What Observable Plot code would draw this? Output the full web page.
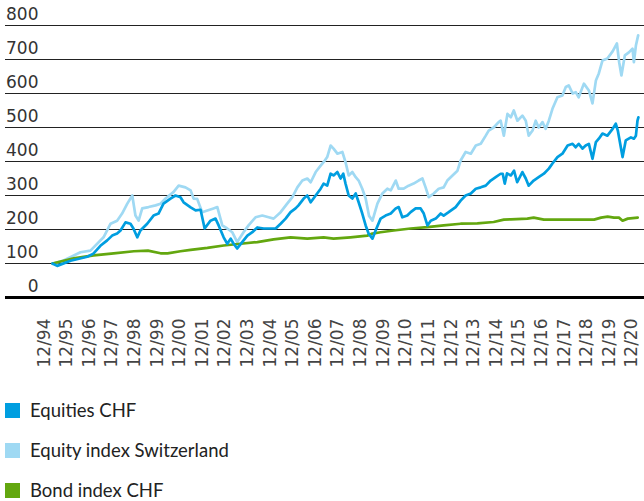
<!DOCTYPE html>
<html><head><meta charset="utf-8">
<script src="https://cdn.jsdelivr.net/npm/d3@7"></script>
<script src="https://cdn.jsdelivr.net/npm/@observablehq/plot@0.6"></script>
<style>
body{margin:0;background:#fff;font-family:Lato,sans-serif;}
#legend{margin-top:10px}
.row{height:40px;display:flex;align-items:center;font-size:18.5px;color:#222}
.sw{width:15px;height:15px;margin-left:5px;margin-right:10px;flex:none}
</style></head><body>
<div id="chart"></div>
<div id="legend"></div>
<script>
const yTicks = [0,100,200,300,400,500,600,700,800];
const xTickLabels = ["12/94","12/95","12/96","12/97","12/98","12/99","12/00","12/01","12/02","12/03","12/04","12/05","12/06","12/07","12/08","12/09","12/10","12/11","12/12","12/13","12/14","12/15","12/16","12/17","12/18","12/19","12/20"];
const seriesNames = ["Equities CHF","Equity index Switzerland","Bond index CHF"];
const seriesColors = ["#009ee0","#9fd9f3","#63a70f"];

// [decimal year, value]
const equitiesCHF = [
[1995.05,100],[1995.26,93],[1995.85,108],[1996.59,120],[1996.86,129],[1997.17,152],[1997.47,168],[1997.69,182],[1997.91,188],[1998.06,197],[1998.28,221],[1998.50,217],[1998.63,203],[1998.80,177],[1998.94,197],[1999.24,217],[1999.52,241],[1999.74,247],[1999.96,276],[2000.27,291],[2000.49,300],[2000.71,295],[2000.85,280],[2001.16,265],[2001.38,256],[2001.60,258],[2001.78,203],[2002.04,226],[2002.26,232],[2002.40,212],[2002.62,177],[2002.78,158],[2002.93,173],[2003.06,158],[2003.22,144],[2003.44,163],[2003.67,182],[2003.89,192],[2004.11,206],[2004.39,203],[2004.70,203],[2004.92,203],[2005.14,217],[2005.36,232],[2005.58,251],[2005.80,262],[2005.93,271],[2006.16,291],[2006.32,300],[2006.47,280],[2006.69,300],[2006.91,320],[2007.04,335],[2007.20,329],[2007.35,364],[2007.48,359],[2007.65,369],[2007.79,350],[2007.91,364],[2008.01,335],[2008.15,300],[2008.31,291],[2008.46,306],[2008.59,280],[2008.75,247],[2008.90,212],[2009.03,188],[2009.20,173],[2009.34,197],[2009.56,232],[2009.78,241],[2010.01,247],[2010.23,262],[2010.36,266],[2010.52,236],[2010.74,241],[2010.89,251],[2011.11,262],[2011.33,262],[2011.47,247],[2011.63,212],[2011.78,226],[2012.00,232],[2012.22,247],[2012.35,241],[2012.57,251],[2012.88,266],[2013.10,285],[2013.32,300],[2013.55,306],[2013.77,320],[2013.99,324],[2014.21,329],[2014.43,344],[2014.65,354],[2014.87,364],[2014.96,364],[2015.05,335],[2015.15,365],[2015.32,359],[2015.46,373],[2015.60,339],[2015.83,369],[2015.98,350],[2016.11,329],[2016.33,344],[2016.55,354],[2016.78,364],[2017.00,379],[2017.16,394],[2017.38,413],[2017.60,423],[2017.83,447],[2018.05,452],[2018.19,442],[2018.32,452],[2018.49,438],[2018.63,447],[2018.77,452],[2018.93,408],[2019.08,457],[2019.21,467],[2019.37,482],[2019.59,476],[2019.82,496],[2019.96,511],[2020.05,491],[2020.26,413],[2020.40,462],[2020.63,471],[2020.76,467],[2020.85,476],[2020.92,520],[2020.96,530]
];
const equityIndexCH = [
[1995.05,99],[1995.54,109],[1996.29,133],[1996.73,138],[1997.31,177],[1997.62,217],[1997.91,226],[1998.13,247],[1998.36,276],[1998.58,300],[1998.72,241],[1998.86,226],[1999.02,262],[1999.30,266],[1999.61,271],[1999.83,276],[2000.05,291],[2000.40,310],[2000.63,329],[2000.93,324],[2001.16,315],[2001.29,291],[2001.45,290],[2001.67,251],[2001.90,256],[2002.17,262],[2002.34,266],[2002.56,212],[2002.78,203],[2003.00,192],[2003.22,163],[2003.50,192],[2003.72,212],[2004.03,236],[2004.33,241],[2004.61,236],[2004.83,232],[2005.14,251],[2005.43,276],[2005.66,295],[2005.88,324],[2006.10,344],[2006.32,350],[2006.47,339],[2006.69,369],[2006.91,388],[2007.04,398],[2007.20,413],[2007.35,447],[2007.48,438],[2007.65,423],[2007.87,428],[2008.01,398],[2008.15,359],[2008.31,369],[2008.46,354],[2008.59,344],[2008.75,320],[2008.90,291],[2009.05,240],[2009.20,226],[2009.42,276],[2009.64,306],[2009.86,320],[2010.01,315],[2010.23,344],[2010.36,320],[2010.58,320],[2010.80,329],[2011.02,335],[2011.24,344],[2011.41,350],[2011.55,324],[2011.69,295],[2011.91,306],[2012.13,320],[2012.35,324],[2012.51,344],[2012.74,359],[2012.96,373],[2013.10,403],[2013.32,428],[2013.55,423],[2013.77,447],[2013.99,452],[2014.21,476],[2014.34,491],[2014.56,500],[2014.78,516],[2014.87,520],[2015.01,476],[2015.17,540],[2015.32,530],[2015.45,550],[2015.61,520],[2015.83,535],[2015.98,520],[2016.11,476],[2016.28,491],[2016.42,520],[2016.55,500],[2016.72,516],[2016.86,496],[2017.00,520],[2017.16,555],[2017.38,589],[2017.60,594],[2017.75,619],[2017.88,624],[2018.05,600],[2018.19,604],[2018.32,589],[2018.55,629],[2018.77,609],[2018.93,571],[2019.08,638],[2019.21,659],[2019.37,697],[2019.59,703],[2019.82,724],[2020.01,747],[2020.11,692],[2020.21,653],[2020.36,712],[2020.54,721],[2020.70,732],[2020.76,692],[2020.85,741],[2020.95,771]
];
const bondIndexCHF = [
[1995.05,100],[1995.99,115],[1996.87,124],[1997.76,130],[1998.65,136],[1999.27,138],[1999.83,130],[2000.14,130],[2000.71,136],[2001.16,140],[2001.90,146],[2002.62,153],[2003.37,158],[2004.11,163],[2004.83,171],[2005.58,177],[2006.32,173],[2007.04,177],[2007.48,173],[2008.23,177],[2008.97,182],[2009.20,188],[2009.56,192],[2010.14,197],[2010.89,203],[2011.63,207],[2012.35,212],[2013.10,217],[2013.84,218],[2014.56,222],[2015.01,229],[2015.32,230],[2016.05,232],[2016.33,235],[2016.78,229],[2017.82,229],[2019.00,229],[2019.31,235],[2019.60,238],[2019.88,235],[2020.10,235],[2020.26,226],[2020.49,232],[2020.93,235]
];

const toRows = (arr, s) => arr.map(([t, v]) => ({t, v, s}));
const xTickPos = xTickLabels.map((_, i) => 1994.92 + i);
const axisFont = "DejaVu Sans";

const chart = Plot.plot({
  width: 644, height: 380,
  marginLeft: 5, marginRight: 0, marginTop: 25, marginBottom: 83,
  x: {type: "linear", domain: [1992.974, 2021.23], axis: null},
  y: {domain: [0, 800], axis: null},
  marks: [
    Plot.ruleY(yTicks.filter(d => d > 0), {stroke: "#222", strokeWidth: 1}),
    Plot.text(yTicks, {y: d => d, text: d => String(d), frameAnchor: "left", dx: 33, dy: -11,
      textAnchor: "end", fontSize: 17, fill: "#333", fontFamily: axisFont}),
    Plot.line(toRows(equityIndexCH, seriesNames[1]), {x: "t", y: "v", stroke: seriesColors[1], strokeWidth: 2.7}),
    Plot.line(toRows(bondIndexCHF, seriesNames[2]), {x: "t", y: "v", stroke: seriesColors[2], strokeWidth: 2.7}),
    Plot.line(toRows(equitiesCHF, seriesNames[0]), {x: "t", y: "v", stroke: seriesColors[0], strokeWidth: 2.7}),
    Plot.ruleY([0], {stroke: "#000", strokeWidth: 3}),
    Plot.text(xTickPos, {x: d => d, text: (d, i) => xTickLabels[i], frameAnchor: "bottom", rotate: -90,
      textAnchor: "end", dy: 21, fontSize: 17, fill: "#444", fontFamily: axisFont})
  ]
});
document.getElementById("chart").appendChild(chart);

const legend = document.getElementById("legend");
seriesNames.forEach((n, i) => {
  const row = document.createElement("div");
  row.className = "row";
  const sw = document.createElement("span");
  sw.className = "sw";
  sw.style.background = seriesColors[i];
  const lab = document.createElement("span");
  lab.textContent = n;
  row.appendChild(sw); row.appendChild(lab);
  legend.appendChild(row);
});
</script>
</body></html>
